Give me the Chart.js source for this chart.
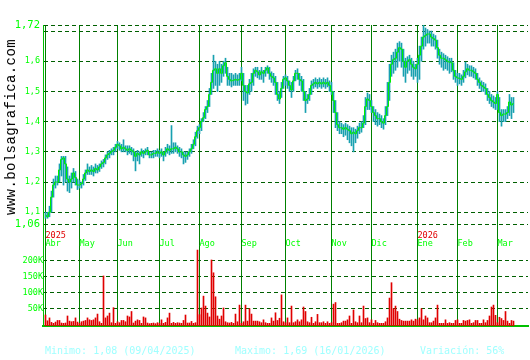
<!DOCTYPE html>
<html>
<head>
<meta charset="utf-8">
<script src="https://cdn.jsdelivr.net/npm/chart.js@4.4.1/dist/chart.umd.min.js"></script>
<style>
  body { margin: 0; background: #fff; }
  #caja { position: relative; width: 530px; height: 360px; }
  #web { position: absolute; left: 11px; top: 127px; transform: translate(-50%, -50%) rotate(-90deg);
         font: 14px 'Liberation Mono'; letter-spacing: 0.4px; white-space: nowrap; color: #000; }
  .pie { position: absolute; top: 345px; font: 10px 'DejaVu Sans Mono'; line-height: 12px; color: #a0ffff; white-space: nowrap; }
</style>
</head>
<body>
<div id="caja">
  <canvas id="grafico" width="530" height="360"></canvas>
  <div id="web">www.bolsagrafica.com</div>
  <div class="pie" style="left:45px">Minimo: 1,08 (09/04/2025)</div>
  <div class="pie" style="left:235px">Maximo: 1,69 (16/01/2026)</div>
  <div class="pie" style="left:420px">Variación: 56%</div>
</div>
<script>
// meses y dia (indice de sesion) en que empieza cada uno
const meses = ['Abr', 'May', 'Jun', 'Jul', 'Ago', 'Sep', 'Oct', 'Nov', 'Dic', 'Ene', 'Feb', 'Mar'];
const inicioMes = [0, 17, 36, 57, 77, 98, 120, 143, 163, 186, 206, 226];
const anios = ['2025', '2026'];
const inicioAnio = [0, 186];
const ticksPrecio = [1.06, 1.1, 1.2, 1.3, 1.4, 1.5, 1.6, 1.7, 1.72];
const ticksVolumen = [50000, 100000, 150000, 200000];

// cotizacion diaria
const cierre = [
  1.09,1.085,1.10,1.15,1.19,1.20,1.20,1.24,1.275,1.28,1.26,1.21,1.20,1.21,1.23,1.215,1.19,
  1.19,1.195,1.21,1.23,1.24,1.235,1.24,1.235,1.245,1.24,1.25,1.26,1.265,1.28,1.29,1.295,1.30,1.305,1.315,
  1.325,1.32,1.31,1.315,1.31,1.305,1.31,1.305,1.30,1.285,1.295,1.29,1.30,1.295,1.30,1.305,1.29,1.29,1.295,1.295,1.30,
  1.295,1.30,1.29,1.30,1.31,1.305,1.31,1.31,1.315,1.31,1.30,1.30,1.29,1.285,1.29,1.30,1.31,1.325,1.35,1.37,
  1.38,1.40,1.413,1.44,1.45,1.49,1.53,1.57,1.575,1.56,1.575,1.56,1.585,1.595,1.55,1.54,1.535,1.537,1.54,1.537,1.54,
  1.56,1.52,1.50,1.495,1.525,1.53,1.56,1.57,1.565,1.555,1.565,1.56,1.57,1.578,1.56,1.55,1.545,1.53,1.49,1.475,1.51,1.54,
  1.545,1.535,1.52,1.505,1.535,1.56,1.56,1.54,1.535,1.50,1.47,1.475,1.49,1.52,1.525,1.53,1.525,1.53,1.525,1.53,1.525,1.53,1.52,
  1.50,1.47,1.43,1.39,1.38,1.38,1.375,1.38,1.375,1.37,1.36,1.365,1.36,1.37,1.38,1.38,1.395,1.45,1.475,1.47,
  1.45,1.43,1.42,1.41,1.41,1.40,1.395,1.42,1.45,1.53,1.59,1.605,1.61,1.63,1.645,1.64,1.60,1.58,1.60,1.605,1.59,1.58,1.575,
  1.59,1.62,1.65,1.68,1.685,1.69,1.69,1.68,1.675,1.67,1.645,1.62,1.61,1.61,1.605,1.60,1.597,1.595,1.57,1.55,
  1.545,1.543,1.54,1.55,1.565,1.575,1.57,1.57,1.565,1.56,1.54,1.53,1.52,1.515,1.51,1.49,1.48,1.47,1.465,1.46,
  1.49,1.43,1.42,1.425,1.425,1.43,1.465,1.455,1.46
];
const maximo = [
  1.10,1.10,1.12,1.17,1.21,1.22,1.22,1.26,1.285,1.285,1.285,1.25,1.22,1.23,1.245,1.235,1.21,
  1.205,1.20,1.225,1.24,1.26,1.25,1.255,1.25,1.26,1.255,1.26,1.27,1.275,1.29,1.30,1.305,1.31,1.315,1.325,
  1.335,1.33,1.325,1.34,1.32,1.32,1.32,1.315,1.31,1.30,1.305,1.30,1.31,1.305,1.31,1.315,1.30,1.30,1.305,1.305,1.31,
  1.305,1.31,1.30,1.315,1.325,1.32,1.387,1.33,1.33,1.32,1.315,1.31,1.30,1.30,1.30,1.31,1.325,1.34,1.365,1.385,
  1.39,1.41,1.43,1.45,1.47,1.51,1.56,1.62,1.60,1.59,1.60,1.59,1.60,1.61,1.58,1.56,1.56,1.555,1.56,1.555,1.56,
  1.58,1.56,1.52,1.52,1.54,1.56,1.575,1.58,1.58,1.57,1.58,1.57,1.58,1.585,1.58,1.565,1.56,1.55,1.53,1.50,1.53,1.55,
  1.555,1.55,1.535,1.53,1.55,1.57,1.575,1.56,1.55,1.54,1.50,1.49,1.51,1.535,1.54,1.545,1.54,1.545,1.54,1.545,1.54,1.545,1.535,
  1.53,1.50,1.47,1.43,1.40,1.395,1.39,1.395,1.39,1.385,1.38,1.38,1.375,1.385,1.395,1.40,1.42,1.48,1.495,1.49,
  1.47,1.45,1.44,1.43,1.425,1.42,1.41,1.45,1.53,1.59,1.62,1.63,1.64,1.66,1.665,1.66,1.64,1.61,1.615,1.62,1.61,1.60,1.59,
  1.61,1.65,1.68,1.72,1.71,1.705,1.70,1.70,1.69,1.685,1.67,1.64,1.63,1.625,1.62,1.615,1.61,1.61,1.595,1.57,
  1.56,1.56,1.555,1.57,1.597,1.59,1.585,1.585,1.58,1.575,1.56,1.545,1.535,1.53,1.525,1.51,1.50,1.49,1.485,1.48,
  1.50,1.48,1.44,1.44,1.44,1.45,1.49,1.48,1.48
];
const minimo = [
  1.08,1.08,1.085,1.10,1.15,1.18,1.19,1.20,1.22,1.19,1.20,1.17,1.165,1.18,1.20,1.19,1.175,
  1.18,1.18,1.19,1.205,1.225,1.225,1.225,1.22,1.23,1.23,1.235,1.245,1.25,1.26,1.275,1.28,1.29,1.29,1.30,
  1.31,1.305,1.30,1.30,1.30,1.29,1.295,1.29,1.27,1.237,1.27,1.26,1.285,1.28,1.29,1.29,1.28,1.28,1.28,1.285,1.285,
  1.28,1.285,1.27,1.285,1.295,1.29,1.295,1.295,1.30,1.295,1.285,1.28,1.26,1.265,1.275,1.285,1.295,1.31,1.32,1.345,
  1.36,1.37,1.40,1.41,1.43,1.45,1.49,1.51,1.52,1.50,1.52,1.53,1.55,1.56,1.52,1.52,1.515,1.52,1.52,1.52,1.52,
  1.535,1.47,1.455,1.46,1.49,1.50,1.52,1.55,1.545,1.54,1.54,1.53,1.55,1.56,1.54,1.53,1.52,1.49,1.47,1.46,1.48,1.51,
  1.52,1.51,1.50,1.48,1.50,1.535,1.54,1.52,1.50,1.47,1.43,1.46,1.47,1.49,1.51,1.515,1.51,1.515,1.51,1.515,1.51,1.515,1.50,
  1.49,1.43,1.38,1.37,1.36,1.36,1.35,1.355,1.34,1.33,1.32,1.30,1.33,1.345,1.36,1.365,1.38,1.39,1.44,1.44,
  1.43,1.40,1.39,1.385,1.39,1.38,1.375,1.39,1.42,1.47,1.55,1.56,1.57,1.58,1.60,1.58,1.55,1.53,1.56,1.57,1.55,1.54,1.55,
  1.53,1.54,1.60,1.64,1.65,1.66,1.66,1.65,1.65,1.64,1.61,1.59,1.58,1.57,1.575,1.57,1.56,1.565,1.54,1.53,
  1.52,1.525,1.52,1.53,1.545,1.555,1.55,1.55,1.545,1.54,1.52,1.51,1.50,1.50,1.49,1.47,1.46,1.45,1.445,1.44,
  1.44,1.40,1.385,1.40,1.40,1.41,1.42,1.41,1.43
];
const volumen = [
  29000,11000,20000,6000,3000,7000,12000,12000,4000,3000,4000,26000,10000,8000,9000,20000,7000,
  3000,8000,10000,12000,20000,14000,12000,14000,20000,32000,8000,3000,151000,20000,26000,35000,5000,52000,3000,
  8000,5000,12000,12000,8000,26000,23000,40000,4000,10000,14000,12000,3000,23000,20000,4000,2000,3000,4000,2000,5000,
  3000,14000,3000,6000,20000,35000,3000,6000,3000,5000,4000,3000,12000,29000,4000,4000,9000,3000,5000,232000,
  30000,51000,88000,57000,35000,23000,201000,161000,86000,26000,16000,26000,51000,8000,5000,4000,6000,3000,32000,8000,60000,
  3000,8000,60000,10000,49000,32000,10000,10000,10000,8000,5000,14000,5000,3000,3000,20000,10000,36000,12000,19000,92000,8000,
  5000,20000,5000,57000,5000,8000,14000,8000,14000,54000,40000,8000,5000,22000,3000,8000,31000,5000,5000,8000,3000,8000,3000,
  5000,63000,68000,3000,3000,5000,10000,10000,14000,26000,3000,45000,8000,5000,26000,5000,57000,18000,20000,5000,
  14000,3000,12000,5000,3000,3000,3000,8000,20000,82000,130000,49000,57000,40000,16000,12000,10000,10000,10000,10000,14000,10000,16000,
  14000,20000,49000,14000,26000,20000,5000,5000,10000,20000,60000,3000,3000,3000,14000,3000,5000,3000,3000,12000,
  14000,3000,3000,12000,10000,12000,14000,3000,5000,12000,12000,3000,3000,14000,5000,12000,26000,54000,60000,28000,
  5000,22000,18000,12000,40000,10000,3000,12000,10000
];

const X_MIN = -1.25, X_MAX = 241.25;
const P_MIN = 0.72331, P_MAX = 1.72;
const V_MIN = -5312, V_MAX = 935312;
const fuente = 'DejaVu Sans Mono';
const verde = '#00ff00';
const rejilla = '#006000';

const ctx = document.getElementById('grafico').getContext('2d');
new Chart(ctx, {
  type: 'line',
  data: {
    datasets: [
      {
        type: 'line', data: cierre.map((c, i) => ({ x: i, y: c })),
        borderColor: '#00f000', borderWidth: 1, pointRadius: 0, stepped: 'middle',
        xAxisID: 'x', yAxisID: 'y', order: 0
      },
      {
        type: 'bar', data: cierre.map((c, i) => ({ x: i, y: [minimo[i], maximo[i]] })),
        backgroundColor: '#18a0b0', barThickness: 1, grouped: false,
        xAxisID: 'x', yAxisID: 'y', order: 1
      },
      {
        type: 'bar', data: volumen.map((v, i) => ({ x: i, y: v })),
        backgroundColor: '#e00000', barThickness: 1, grouped: false, base: V_MIN,
        xAxisID: 'x', yAxisID: 'y2', order: 2
      }
    ]
  },
  options: {
    responsive: false,
    devicePixelRatio: 1,
    animation: false,
    layout: { padding: { left: 0, top: 25, right: 2, bottom: 34 } },
    plugins: { legend: { display: false }, tooltip: { enabled: false } },
    scales: {
      x: {
        type: 'linear', axis: 'x', position: 'bottom', min: X_MIN, max: X_MAX, offset: false,
        afterBuildTicks: s => { s.ticks = inicioMes.map(v => ({ value: v })); },
        grid: { color: '#008000', lineWidth: 1, drawTicks: false, offset: false },
        border: { color: '#00c000', width: 2 },
        ticks: { display: false }
      },
      xMes: {
        type: 'linear', axis: 'x', position: { y: 1.0117 }, min: X_MIN, max: X_MAX, offset: false,
        afterBuildTicks: s => { s.ticks = inicioMes.map(v => ({ value: v })); },
        grid: { display: false, drawTicks: false }, border: { display: false },
        ticks: {
          autoSkip: false, maxRotation: 0, align: 'start', padding: 0, color: verde,
          font: { family: fuente, size: 8.5 },
          callback: v => meses[inicioMes.indexOf(v)]
        }
      },
      xAnio: {
        type: 'linear', axis: 'x', position: { y: 1.0382 }, min: X_MIN, max: X_MAX, offset: false,
        afterBuildTicks: s => { s.ticks = inicioAnio.map(v => ({ value: v })); },
        grid: { display: false, drawTicks: false }, border: { display: false },
        ticks: {
          autoSkip: false, maxRotation: 0, align: 'start', padding: 0, color: '#e00000',
          font: { family: fuente, size: 8.5 },
          callback: v => anios[inicioAnio.indexOf(v)]
        }
      },
      y: {
        type: 'linear', axis: 'y', position: 'left', min: P_MIN, max: P_MAX,
        afterBuildTicks: s => { s.ticks = ticksPrecio.map(v => ({ value: v })); },
        afterFit: s => { s.width = 43; },
        grid: { color: rejilla, lineWidth: 1, drawTicks: false },
        border: { color: '#00c000', width: 1, dash: [4, 3] },
        ticks: {
          autoSkip: false, padding: 3, color: verde,
          font: c => ({ family: fuente, size: (c.tick && (c.tick.value === 1.06 || c.tick.value === 1.72)) ? 10.5 : 8.5 }),
          callback: v => v === 1.7 ? '' : String(v).replace('.', ',')
        }
      },
      y2: {
        type: 'linear', axis: 'y', position: { x: X_MIN }, min: V_MIN, max: V_MAX,
        afterBuildTicks: s => { s.ticks = ticksVolumen.map(v => ({ value: v })); },
        grid: { color: rejilla, lineWidth: 1, drawTicks: false },
        border: { display: false, dash: [4, 3] },
        ticks: {
          autoSkip: false, padding: 1, color: verde,
          font: { family: fuente, size: 8.5 },
          callback: v => (v / 1000) + 'K'
        }
      }
    }
  }
});
</script>
</body>
</html>
